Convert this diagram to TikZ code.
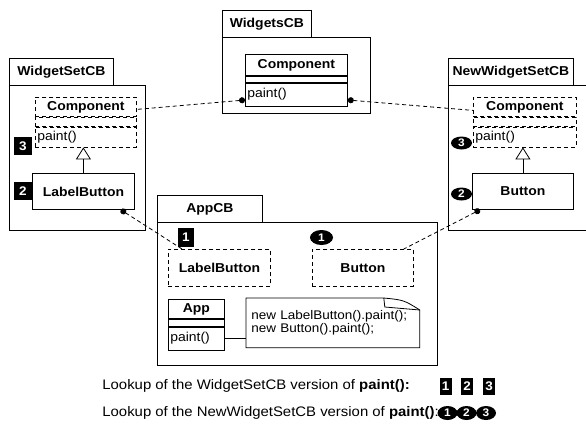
\documentclass[tikz,border=0pt]{standalone}
\usepackage{fontspec}
\setmainfont[FakeStretch=1.08]{Liberation Sans}
\usetikzlibrary{arrows.meta,positioning,shapes.geometric,calc}

\begin{document}
\begin{tikzpicture}[x=1pt,y=-1pt,line width=0.8pt,
  tab/.style={draw,anchor=north west,inner sep=0pt,minimum height=27pt,
              font=\fontsize{12.9}{15}\selectfont\bfseries},
  body/.style={draw,anchor=north west,inner sep=0pt},
  cname/.style={draw,anchor=north west,inner sep=0pt,
                font=\fontsize{12.9}{15}\selectfont\bfseries},
  cpart/.style={draw,anchor=north west,inner sep=0pt},
  cop/.style={draw,anchor=north west,inner xsep=2pt,inner ysep=0pt,
              text width=#1,align=left,font=\fontsize{12.9}{15}\selectfont},
  ghost/.style={dash pattern=on 4pt off 3pt},
  dep/.style={dash pattern=on 4pt off 3pt},
  dot/.style={{Circle[length=6pt]}-},
  sqbadge/.style={fill=black,text=white,inner sep=0pt,minimum width=18pt,
                  minimum height=18pt,font=\fontsize{12.5}{12.5}\selectfont\bfseries},
  ovbadge/.style={ellipse,fill=black,text=white,inner sep=0pt,minimum width=21pt,
                  minimum height=13pt,font=\fontsize{11}{11}\selectfont\bfseries},
  lookup/.style={anchor=west,inner sep=0pt,font=\fontsize{13.8}{15}\selectfont}
]
\useasboundingbox (0,0) rectangle (586,424);

% ---- WidgetsCB ----------------------------------------------
\node[tab,minimum width=89pt] (wcTab) at (222,10) {WidgetsCB};
\node[body,minimum width=148pt,minimum height=76pt] (wcBody) at (222,37) {};
\node[cname,minimum width=102pt,minimum height=21pt] (wcName) at (245,54) {Component};
\node[cpart,minimum width=102pt,minimum height=6pt] (wcAttr) at (wcName.south west) {};
\node[cop=98pt,minimum height=23pt] (wcOps) at (wcAttr.south west) {paint()};

% ---- WidgetSetCB --------------------------------------------
\node[tab,minimum width=104pt] (wsTab) at (9,58) {WidgetSetCB};
\node[body,minimum width=136pt,minimum height=145pt] (wsBody) at (9,85) {};
\node[cname,ghost,minimum width=101pt,minimum height=19pt] (wsName) at (35,97) {Component};
\node[cpart,ghost,minimum width=101pt,minimum height=9pt] (wsAttr) at (wsName.south west) {};
\node[cop=97pt,ghost,minimum height=20pt] (wsOps) at (wsAttr.south west) {paint()};
\node[cname,minimum width=102pt,minimum height=36pt] (wsLabel) at (32,173) {LabelButton};
\draw[-{Triangle[open,length=12pt,width=15pt]}] (wsLabel.north) -- (wsLabel.north |- wsOps.south);

% ---- NewWidgetSetCB -----------------------------------------
\node[tab,minimum width=125pt] (nwTab) at (448,58) {NewWidgetSetCB};
\node[body,minimum width=137.5pt,minimum height=145pt] (nwBody) at (448,85) {};
\node[cname,ghost,minimum width=103pt,minimum height=19pt] (nwName) at (473,97) {Component};
\node[cpart,ghost,minimum width=103pt,minimum height=9pt] (nwAttr) at (nwName.south west) {};
\node[cop=99pt,ghost,minimum height=20pt] (nwOps) at (nwAttr.south west) {paint()};
\node[cname,minimum width=101pt,minimum height=36pt] (nwButton) at (472,173) {Button};
\draw[-{Triangle[open,length=12pt,width=15pt]}] (nwButton.north) -- (nwButton.north |- nwOps.south);

% ---- AppCB --------------------------------------------------
\node[tab,minimum width=105pt] (appTab) at (157,195) {AppCB};
\node[body,minimum width=280pt,minimum height=143pt] (appBody) at (157,222) {};
\node[cname,ghost,minimum width=102pt,minimum height=37pt] (appLabel) at (168,249) {LabelButton};
\node[cname,ghost,minimum width=101pt,minimum height=37pt] (appButton) at (312,249) {Button};
\node[cname,minimum width=56pt,minimum height=19pt] (appName) at (168,299) {App};
\node[cpart,minimum width=56pt,minimum height=7pt] (appAttr) at (appName.south west) {};
\node[cop=52pt,minimum height=23pt] (appOps) at (appAttr.south west) {paint()};
\node[anchor=north west,inner xsep=5pt,inner ysep=0pt,text width=163pt,align=left,
      minimum height=49pt,font=\fontsize{12.5}{12.8}\selectfont] (appNote) at (246,298)
      {new LabelButton().paint();\\new Button().paint();};
\draw (appNote.north west) -- ([xshift=-36pt]appNote.north east)
  .. controls ([xshift=-16pt,yshift=-2pt]appNote.north east) .. ([yshift=-12pt]appNote.north east)
  -- (appNote.south east) -- (appNote.south west) -- cycle;
\draw ([xshift=-36pt]appNote.north east) -- ([xshift=-35pt,yshift=-9pt]appNote.north east)
  -- ([yshift=-12pt]appNote.north east);
\draw (appOps.east) -- (appOps.east -| appNote.west);

% ---- Dependencies -------------------------------------------
\draw[dep,dot] ([yshift=-5.5pt]wcOps.west) -- ([yshift=-2.5pt]wsName.east);
\draw[dep,dot] ([yshift=-5.5pt]wcOps.east) -- ([yshift=-3.5pt]nwName.west);
\draw[dep,dot] ([xshift=-14pt]wsLabel.south east) -- ([xshift=14pt]appLabel.north west);
\draw[dep,dot] ([xshift=8pt]nwButton.south west) -- ([xshift=-10pt]appButton.north east);

% ---- Lookup badges ------------------------------------------
\node[sqbadge] (wsB3) at (23,146) {3};
\node[sqbadge] (wsB2) at (23,191) {2};
\node[ovbadge] (nwB3) at (461.5,143) {3};
\node[ovbadge] (nwB2) at (461.5,194) {2};
\node[sqbadge,minimum width=16pt,minimum height=19pt] (appB1) at (186,237.5) {1};
\node[ovbadge,minimum width=23pt,minimum height=15pt] (appC1) at (321.5,237.5) {1};

% ---- Legend -------------------------------------------------
\node[lookup] (lkOld) at (102,386) {Lookup of the WidgetSetCB version of \textbf{paint():}};
\node[lookup] (lkNew) at (102,413) {Lookup of the NewWidgetSetCB version of \textbf{paint()}:};
\foreach \d/\x in {1/445.5,2/467,3/489}
  \node[sqbadge,minimum width=12pt,minimum height=17pt] (lkSq\d) at (\x,386) {\d};
\foreach \d/\x in {1/447.5,2/466.5,3/486}
  \node[ovbadge,minimum width=20pt,minimum height=14pt] (lkOv\d) at (\x,413) {\d};

\end{tikzpicture}
\end{document}
